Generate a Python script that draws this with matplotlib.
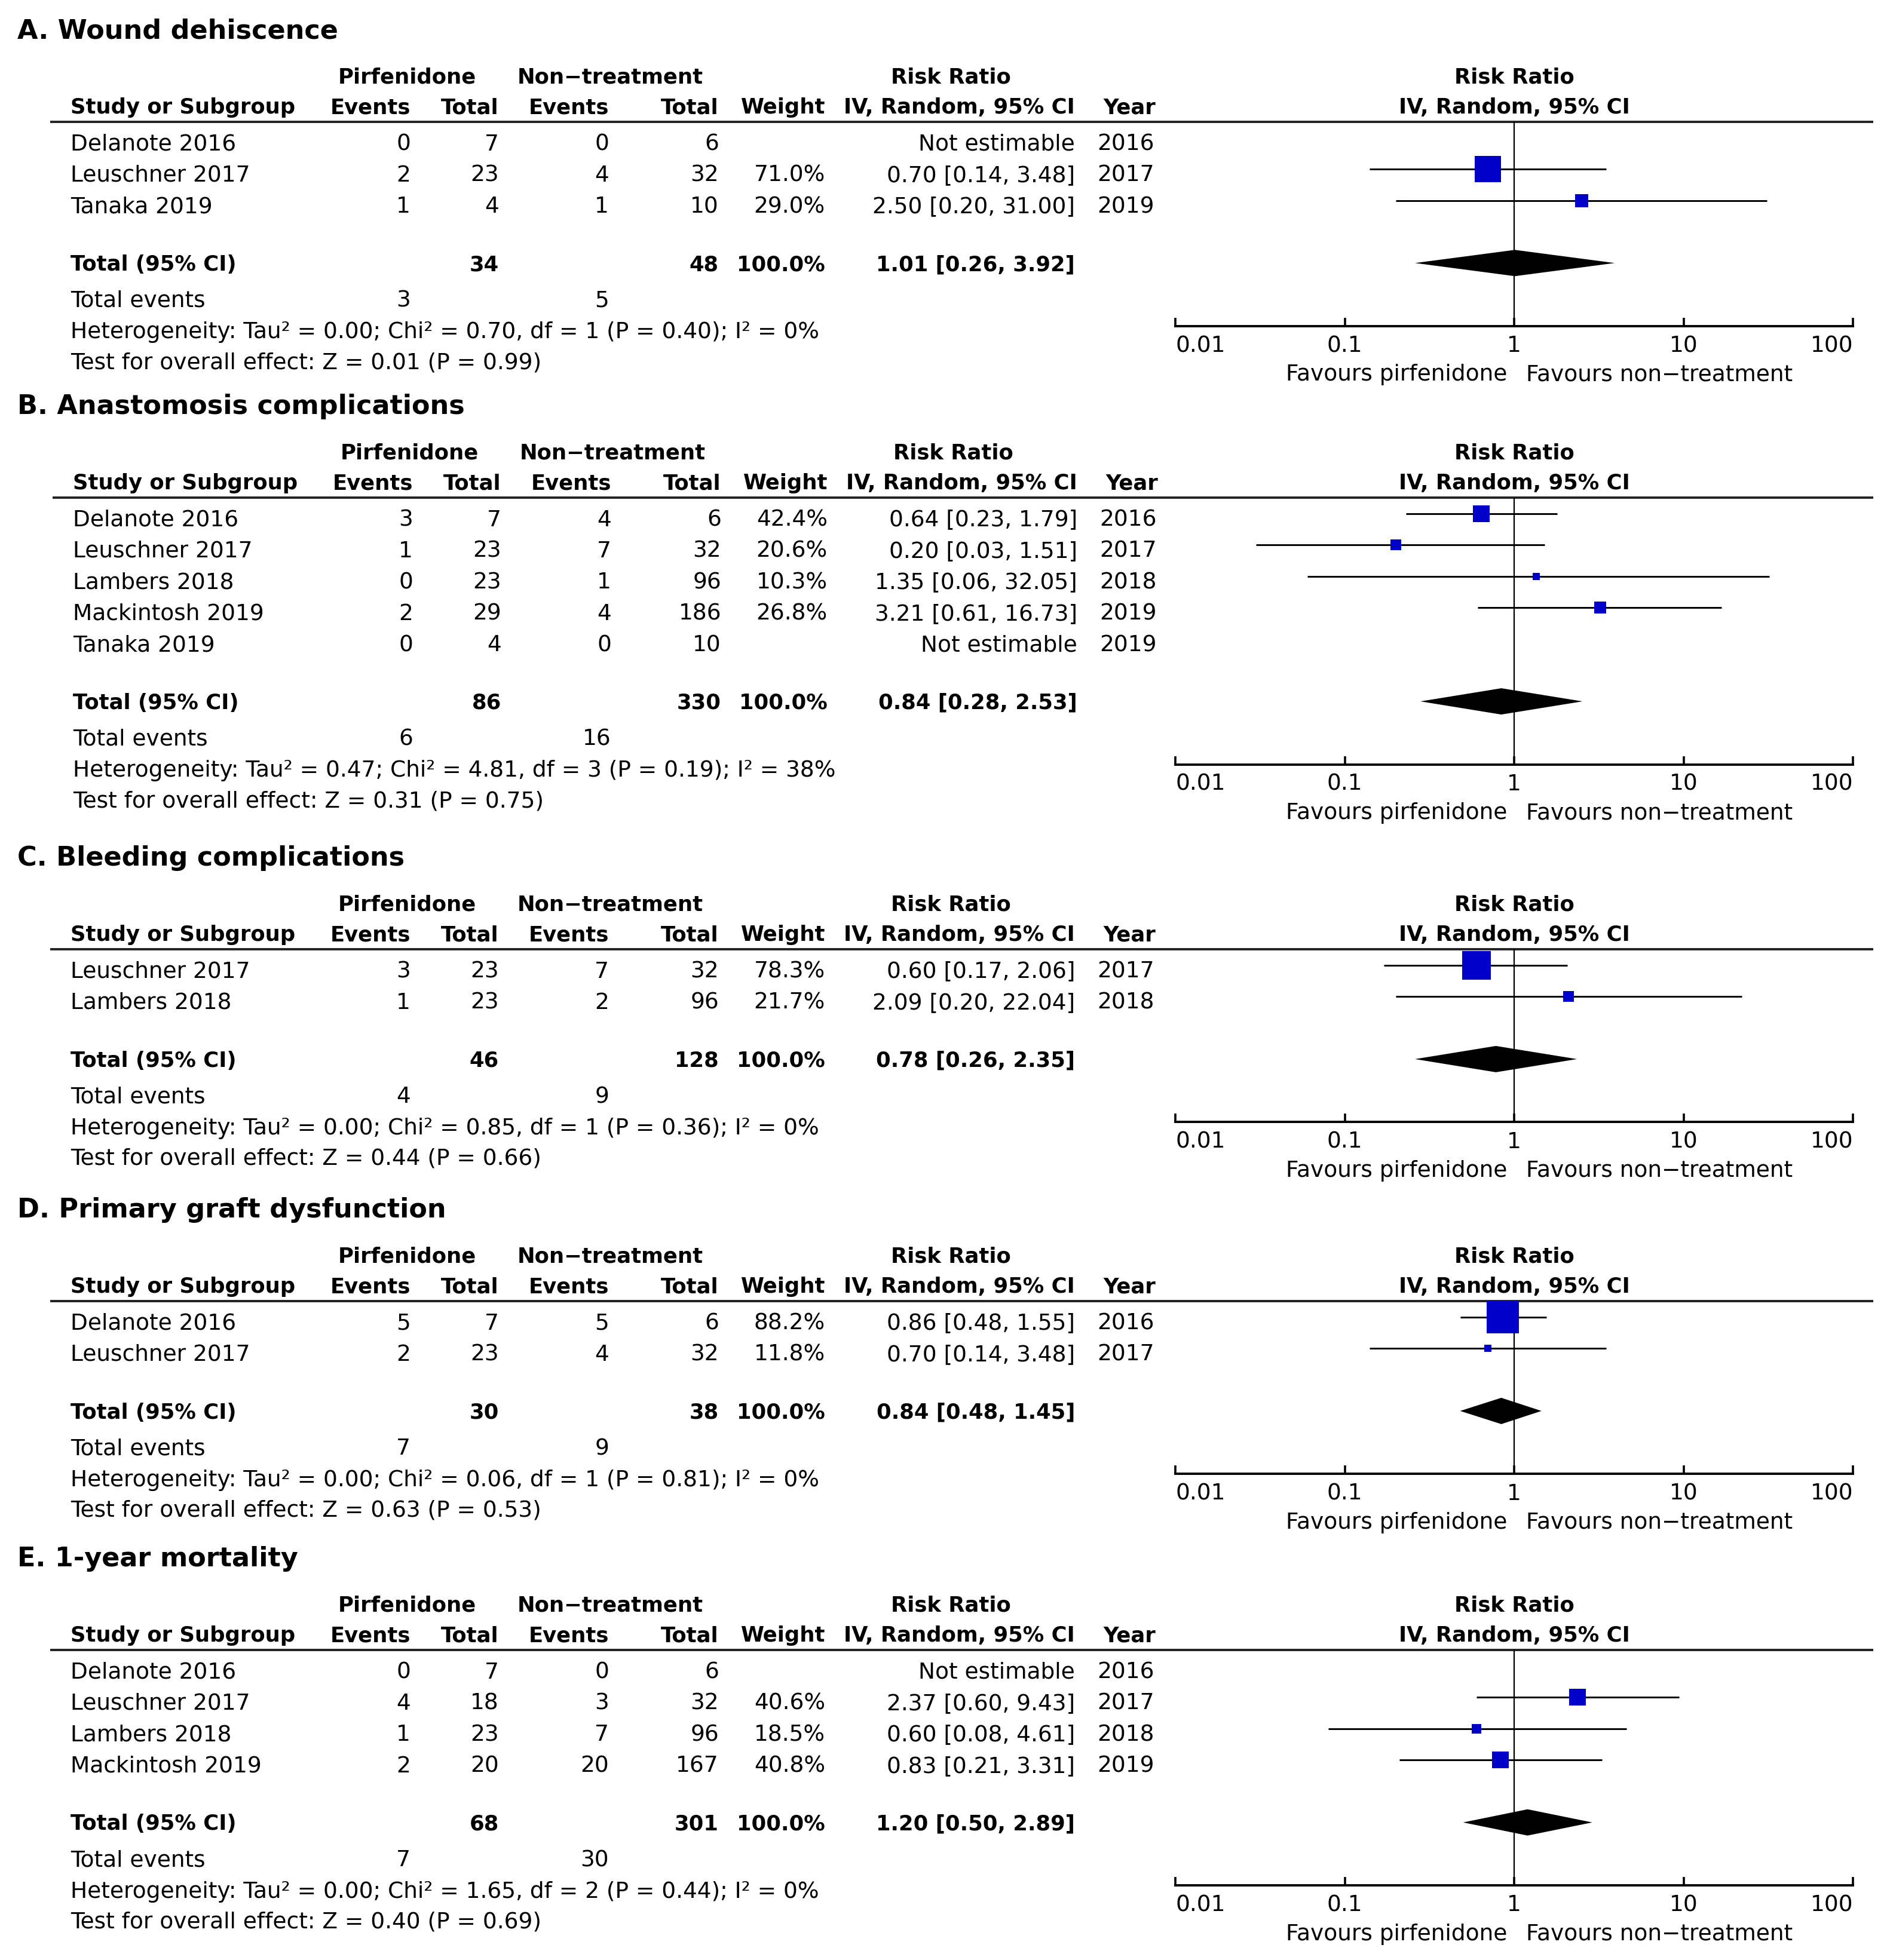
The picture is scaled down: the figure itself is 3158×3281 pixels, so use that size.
import matplotlib
matplotlib.use('Agg')
import matplotlib.pyplot as plt
from matplotlib.ticker import NullLocator

plt.rcParams['font.family'] = 'DejaVu Sans'

W, H = 3158, 3281
MINUS = '\u2212'
BLUE = '#0000C8'

# ---------------- data ----------------
# A. Wound dehiscence
a_study = ['Delanote 2016', 'Leuschner 2017', 'Tanaka 2019']
a_exp_ev = [0, 2, 1]
a_exp_n = [7, 23, 4]
a_ctl_ev = [0, 4, 1]
a_ctl_n = [6, 32, 10]
a_weight = [None, 71.0, 29.0]
a_rr = [None, 0.70, 2.50]
a_lo = [None, 0.14, 0.20]
a_hi = [None, 3.48, 31.00]
a_year = [2016, 2017, 2019]
a_total = [34, 48, 1.01, 0.26, 3.92]      # exp n, ctl n, RR, lower, upper
a_events = [3, 5]
a_het = [0.00, 0.70, 1, 0.40, 0]          # Tau2, Chi2, df, P, I2
a_z = [0.01, 0.99]

# B. Anastomosis complications
b_study = ['Delanote 2016', 'Leuschner 2017', 'Lambers 2018', 'Mackintosh 2019', 'Tanaka 2019']
b_exp_ev = [3, 1, 0, 2, 0]
b_exp_n = [7, 23, 23, 29, 4]
b_ctl_ev = [4, 7, 1, 4, 0]
b_ctl_n = [6, 32, 96, 186, 10]
b_weight = [42.4, 20.6, 10.3, 26.8, None]
b_rr = [0.64, 0.20, 1.35, 3.21, None]
b_lo = [0.23, 0.03, 0.06, 0.61, None]
b_hi = [1.79, 1.51, 32.05, 16.73, None]
b_year = [2016, 2017, 2018, 2019, 2019]
b_total = [86, 330, 0.84, 0.28, 2.53]
b_events = [6, 16]
b_het = [0.47, 4.81, 3, 0.19, 38]
b_z = [0.31, 0.75]

# C. Bleeding complications
c_study = ['Leuschner 2017', 'Lambers 2018']
c_exp_ev = [3, 1]
c_exp_n = [23, 23]
c_ctl_ev = [7, 2]
c_ctl_n = [32, 96]
c_weight = [78.3, 21.7]
c_rr = [0.60, 2.09]
c_lo = [0.17, 0.20]
c_hi = [2.06, 22.04]
c_year = [2017, 2018]
c_total = [46, 128, 0.78, 0.26, 2.35]
c_events = [4, 9]
c_het = [0.00, 0.85, 1, 0.36, 0]
c_z = [0.44, 0.66]

# D. Primary graft dysfunction
d_study = ['Delanote 2016', 'Leuschner 2017']
d_exp_ev = [5, 2]
d_exp_n = [7, 23]
d_ctl_ev = [5, 4]
d_ctl_n = [6, 32]
d_weight = [88.2, 11.8]
d_rr = [0.86, 0.70]
d_lo = [0.48, 0.14]
d_hi = [1.55, 3.48]
d_year = [2016, 2017]
d_total = [30, 38, 0.84, 0.48, 1.45]
d_events = [7, 9]
d_het = [0.00, 0.06, 1, 0.81, 0]
d_z = [0.63, 0.53]

# E. 1-year mortality
e_study = ['Delanote 2016', 'Leuschner 2017', 'Lambers 2018', 'Mackintosh 2019']
e_exp_ev = [0, 4, 1, 2]
e_exp_n = [7, 18, 23, 20]
e_ctl_ev = [0, 3, 7, 20]
e_ctl_n = [6, 32, 96, 167]
e_weight = [None, 40.6, 18.5, 40.8]
e_rr = [None, 2.37, 0.60, 0.83]
e_lo = [None, 0.60, 0.08, 0.21]
e_hi = [None, 9.43, 4.61, 3.31]
e_year = [2016, 2017, 2018, 2019]
e_total = [68, 301, 1.20, 0.50, 2.89]
e_events = [7, 30]
e_het = [0.00, 1.65, 2, 0.44, 0]
e_z = [0.40, 0.69]

panels = [
    ('A. Wound dehiscence', a_study, a_exp_ev, a_exp_n, a_ctl_ev, a_ctl_n, a_weight,
     a_rr, a_lo, a_hi, a_year, a_total, a_events, a_het, a_z),
    ('B. Anastomosis complications', b_study, b_exp_ev, b_exp_n, b_ctl_ev, b_ctl_n, b_weight,
     b_rr, b_lo, b_hi, b_year, b_total, b_events, b_het, b_z),
    ('C. Bleeding complications', c_study, c_exp_ev, c_exp_n, c_ctl_ev, c_ctl_n, c_weight,
     c_rr, c_lo, c_hi, c_year, c_total, c_events, c_het, c_z),
    ('D. Primary graft dysfunction', d_study, d_exp_ev, d_exp_n, d_ctl_ev, d_ctl_n, d_weight,
     d_rr, d_lo, d_hi, d_year, d_total, d_events, d_het, d_z),
    ('E. 1-year mortality', e_study, e_exp_ev, e_exp_n, e_ctl_ev, e_ctl_n, e_weight,
     e_rr, e_lo, e_hi, e_year, e_total, e_events, e_het, e_z),
]

# y of the header rule of each panel (pixels from top) and small x shift
panel_top = [204, 833, 1589, 2178, 2762]
panel_dx = [0, 4, 0, 0, 0]

# ---------------- layout ----------------
FS = 27      # normal text
FSB = 25.5   # bold table text
FST = 32     # panel title
ROW = 52.4

X_NAME, X_EEV, X_EN, X_CEV, X_CN, X_W, X_CI, X_YR = 118, 687, 835, 1019, 1203, 1381, 1799, 1934
X_PIRF, X_NONT, X_RR = 681, 1021, 1591
X_F0, X_F1, X_F_ONE = 1967, 3101, 2534

fig = plt.figure(figsize=(W / 100, H / 100), dpi=100)
bg = fig.add_axes([0, 0, 1, 1])
bg.set_xlim(0, W)
bg.set_ylim(H, 0)
bg.axis('off')


def put(x, yc, s, ha='left', bold=False, size=None):
    size = size or (FSB if bold else FS)
    bg.text(x, yc + 0.36 * size / 0.72, s, ha=ha, va='baseline', fontsize=size,
            fontweight='bold' if bold else 'normal')


for (title, study, eev, en, cev, cn, wt, rr, lo, hi, yr, tot, evs, het, zz), L, dx in zip(
        panels, panel_top, panel_dx):
    # title and headers
    put(29, L - 156, title, bold=True, size=FST)
    put(X_PIRF + dx, L - 77, 'Pirfenidone', ha='center', bold=True)
    put(X_NONT + dx, L - 77, 'Non' + MINUS + 'treatment', ha='center', bold=True)
    put(X_RR + dx, L - 77, 'Risk Ratio', ha='center', bold=True)
    put(X_F_ONE, L - 77, 'Risk Ratio', ha='center', bold=True)
    h2 = L - 26.5
    put(X_NAME + dx, h2, 'Study or Subgroup', bold=True)
    put(X_EEV + dx, h2, 'Events', ha='right', bold=True)
    put(X_EN + dx, h2, 'Total', ha='right', bold=True)
    put(X_CEV + dx, h2, 'Events', ha='right', bold=True)
    put(X_CN + dx, h2, 'Total', ha='right', bold=True)
    put(X_W + dx, h2, 'Weight', ha='right', bold=True)
    put(X_CI + dx, h2, 'IV, Random, 95% CI', ha='right', bold=True)
    put(X_YR + dx, h2, 'Year', ha='right', bold=True)
    put(X_F_ONE, h2, 'IV, Random, 95% CI', ha='center', bold=True)
    bg.plot([84 + dx, 3135], [L, L], color='#222222', lw=2.8, solid_capstyle='butt')

    rows = [L + 34 + i * ROW for i in range(len(study))]
    for i, y in enumerate(rows):
        put(X_NAME + dx, y, study[i])
        put(X_EEV + dx, y, str(eev[i]), ha='right')
        put(X_EN + dx, y, str(en[i]), ha='right')
        put(X_CEV + dx, y, str(cev[i]), ha='right')
        put(X_CN + dx, y, str(cn[i]), ha='right')
        if wt[i] is None:
            put(X_CI + dx, y, 'Not estimable', ha='right')
        else:
            put(X_W + dx, y, f'{wt[i]:.1f}%', ha='right')
            put(X_CI + dx, y, f'{rr[i]:.2f} [{lo[i]:.2f}, {hi[i]:.2f}]', ha='right')
        put(X_YR + dx - 2, y, str(yr[i]), ha='right')

    yt = rows[-1] + 97.5
    put(X_NAME + dx, yt, 'Total (95% CI)', bold=True)
    put(X_EN + dx, yt, str(tot[0]), ha='right', bold=True)
    put(X_CN + dx, yt, str(tot[1]), ha='right', bold=True)
    put(X_W + dx, yt, '100.0%', ha='right', bold=True)
    put(X_CI + dx, yt, f'{tot[2]:.2f} [{tot[3]:.2f}, {tot[4]:.2f}]', ha='right', bold=True)
    ye = yt + 60
    put(X_NAME + dx, ye, 'Total events')
    put(X_EEV + dx, ye, str(evs[0]), ha='right')
    put(X_CEV + dx, ye, str(evs[1]), ha='right')
    yh = ye + 52.5
    put(X_NAME + dx, yh, f'Heterogeneity: Tau\u00b2 = {het[0]:.2f}; Chi\u00b2 = {het[1]:.2f}, '
                         f'df = {het[2]} (P = {het[3]:.2f}); I\u00b2 = {het[4]}%')
    put(X_NAME + dx, yh + 51, f'Test for overall effect: Z = {zz[0]:.2f} (P = {zz[1]:.2f})')

    # forest plot
    axis_y = yh - 7
    ax = fig.add_axes([X_F0 / W, 1 - axis_y / H, (X_F1 - X_F0) / W, (axis_y - L) / H])
    ax.patch.set_visible(False)
    ax.set_xscale('log')
    ax.set_xlim(0.01, 100)
    ax.set_ylim(axis_y - L, 0)
    for s in ['top', 'left', 'right']:
        ax.spines[s].set_visible(False)
    ax.spines['bottom'].set_linewidth(2.8)
    ax.set_yticks([])
    ax.set_xticks([0.01, 0.1, 1, 10, 100], ['0.01', '0.1', '1', '10', '100'])
    ax.xaxis.set_minor_locator(NullLocator())
    ax.tick_params(axis='x', direction='in', length=10, width=2.6, pad=11, labelsize=FS)
    labels = ax.get_xticklabels()
    labels[0].set_ha('left')
    labels[-1].set_ha('right')
    ax.axvline(1, color='black', lw=1.6, zorder=1)

    for i, y in enumerate(rows):
        if wt[i] is None:
            continue
        yy = y - L - 7
        ax.plot([lo[i], hi[i]], [yy, yy], color='black', lw=2.1, zorder=2,
                solid_capstyle='butt')
        ax.plot([rr[i]], [yy], marker='s', ms=(6.57 + 0.527 * wt[i]) * 0.72,
                color=BLUE, mew=0, ls='none', zorder=3)
    yd = yt - L
    ax.fill([tot[3], tot[2], tot[4], tot[2]], [yd, yd - 22, yd, yd + 22],
            color='black', lw=0, zorder=3)

    yf = axis_y + 78
    put(2522, yf, 'Favours pirfenidone', ha='right')
    put(2554, yf, 'Favours non' + MINUS + 'treatment', ha='left')

fig.savefig('out.png', dpi=100)
